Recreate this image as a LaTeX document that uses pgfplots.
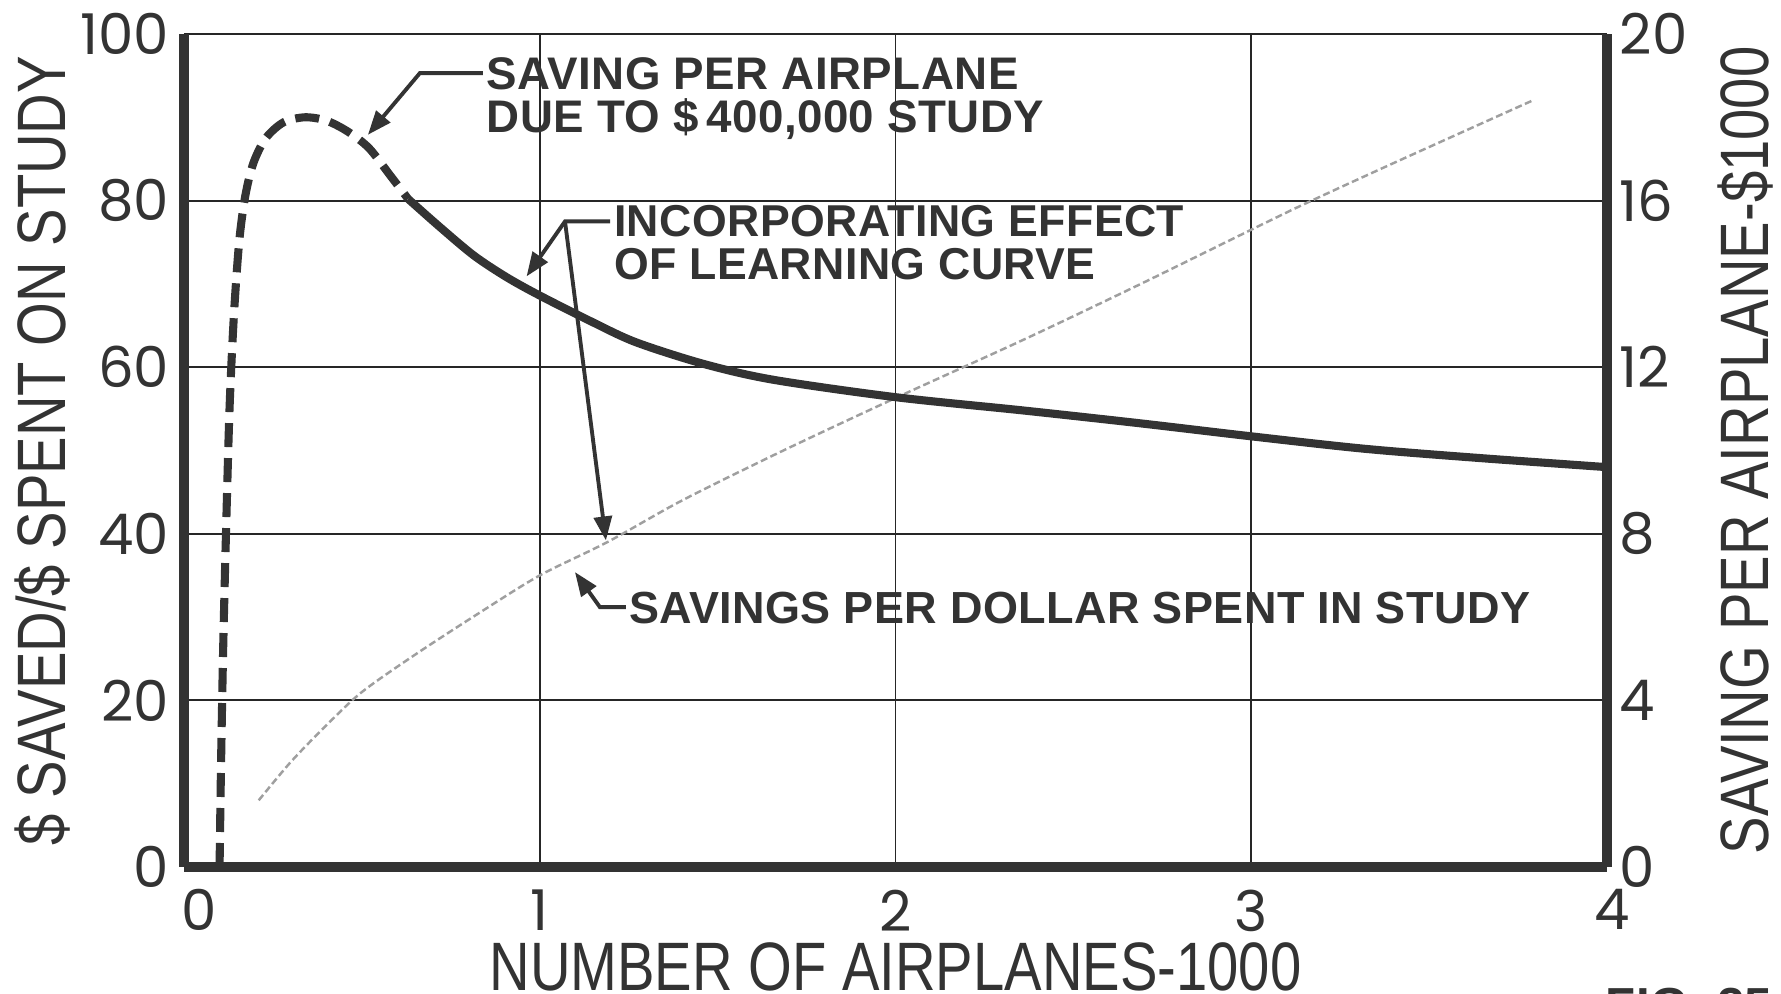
\documentclass[border=0pt]{standalone}
\usepackage{pgfplots}
\pgfplotsset{compat=1.18}
\usepackage{pgfplotstable}
\usepackage{fontspec}
\setmainfont{Liberation Sans}
\newfontfamily\tickfont{Poppins}
\newfontfamily\labfont[FakeStretch=0.82]{Liberation Sans}
\newfontfamily\annfont[LetterSpace=1]{Liberation Sans}
\usetikzlibrary{arrows.meta}
\definecolor{ink}{HTML}{333333}

\pgfplotstableread{
x y
0.100 0
0.104 2.4
0.110 5.2
0.118 8.0
0.128 11.0
0.140 13.2
0.155 15.0
0.172 16.1
0.195 16.9
0.230 17.5
0.280 17.88
0.340 18.0
0.400 17.92
0.460 17.66
0.520 17.26
0.580 16.6
0.630 16.04
}\darkdash

\pgfplotstableread{
x y
0.630 16.04
0.720 15.36
0.815 14.68
0.907 14.16
1.000 13.72
1.144 13.10
1.270 12.60
1.460 12.08
1.655 11.70
2.000 11.28
2.360 10.96
2.680 10.66
3.000 10.34
3.320 10.04
3.640 9.82
4.000 9.60
}\darksolid

\pgfplotstableread{
x y
0.21 8
0.30 12.6
0.40 17
0.50 21
0.65 25.5
0.83 30.5
1.00 35
1.19 39
1.40 44
1.675 49.8
2.00 56.3
2.36 63.3
2.68 69.8
3.00 76.5
3.15 79.6
3.40 84.5
3.79 92
}\light

\begin{document}
\begin{tikzpicture}
\useasboundingbox (-18.4mm,-12.7mm) rectangle (159.7mm,86.7mm);
\begin{axis}[
  at={(0,0)}, anchor=south west,
  width=142.3mm, height=83.3mm, scale only axis,
  xmin=0, xmax=4, ymin=0, ymax=100,
  xtick={0,1,2,3,4}, ytick={0,20,40,60,80,100},
  xticklabels={{\hspace*{3mm}0},1,2,3,{\hspace*{1mm}4}},
  axis x line*=bottom, axis y line*=left,
  axis line style={line width=2.7pt, ink},
  major tick length=0pt,
  xmajorgrids, ymajorgrids,
  grid style={line width=0.55pt, black!85},
  ticklabel style={font=\tickfont\fontsize{16}{16}\selectfont, text=ink, /pgf/number format/assume math mode=true},
  xticklabel style={inner sep=0pt, anchor=north, yshift=-2.2mm},
  yticklabel style={inner sep=0pt, anchor=east, xshift=-1.4mm},
  xlabel={NUMBER OF AIRPLANES-1000},
  ylabel={\$ SAVED/\$ SPENT ON STUDY},
  label style={font=\labfont\fontsize{19.5}{20}\selectfont, text=ink},
  xlabel style={at={([yshift=-10.0mm]axis description cs:0.5,0)}, anchor=center},
  ylabel style={at={([xshift=-14.1mm]axis description cs:0,0.5)}, anchor=center},
  clip=false,
]
\addplot[gray!75, line width=0.7pt, dash pattern=on 2pt off 1pt, smooth] table {\light};

\draw[ink, line width=1.1pt, -{Triangle[length=2.4mm,width=1.8mm]}]
  (axis cs:0.840,95.3) -- (axis cs:0.663,95.3) -- (axis cs:0.517,87.9);
\node[anchor=north west, inner sep=0pt, align=left, text=ink,
  font=\annfont\bfseries\fontsize{13}{12.25}\selectfont]
  at (axis cs:0.849,97.3) {SAVING PER AIRPLANE\\DUE TO \$\,400,000 STUDY};

\draw[ink, line width=1.1pt, -{Triangle[length=2.4mm,width=1.8mm]}]
  (axis cs:1.198,77.5) -- (axis cs:1.071,77.5) -- (axis cs:0.963,70.9);
\draw[ink, line width=1.1pt, -{Triangle[length=2.4mm,width=1.8mm]}]
  (axis cs:1.071,77.5) -- (axis cs:1.186,39.2);
\node[anchor=north west, inner sep=0pt, align=left, text=ink,
  font=\annfont\bfseries\fontsize{12.7}{12.25}\selectfont]
  at (axis cs:1.207,79.5) {INCORPORATING EFFECT\\OF LEARNING CURVE};

\draw[ink, line width=1.1pt, {Triangle[length=2.4mm,width=1.8mm]}-]
  (axis cs:1.099,35.4) -- (axis cs:1.169,31.2) -- (axis cs:1.242,31.2);
\node[anchor=west, inner sep=0pt, text=ink,
  font=\annfont\bfseries\fontsize{12.8}{12.25}\selectfont]
  at (axis cs:1.249,31.1) {SAVINGS PER DOLLAR SPENT IN STUDY};
\end{axis}

\begin{axis}[
  at={(0,0)}, anchor=south west,
  width=142.3mm, height=83.3mm, scale only axis,
  xmin=0, xmax=4, ymin=0, ymax=20,
  axis x line=none, axis y line*=right,
  axis line style={line width=2.7pt, ink},
  ytick={0,4,8,12,16,20},
  major tick length=0pt,
  ticklabel style={font=\tickfont\fontsize{16}{16}\selectfont, text=ink, /pgf/number format/assume math mode=true},
  yticklabel style={inner sep=0pt, anchor=west, xshift=1.2mm},
  ylabel={SAVING PER AIRPLANE-\$1000},
  label style={font=\labfont\fontsize{19.5}{20}\selectfont, text=ink},
  ylabel style={at={([xshift=13.9mm]axis description cs:1,0.5)}, anchor=center, rotate=0},
]
\addplot[ink, line width=2.3pt, dash pattern=on 2.4mm off 1.1mm, smooth] table {\darkdash};
\addplot[ink, line width=2.3pt, smooth] table {\darksolid};
\end{axis}

\node[anchor=north west, inner sep=0pt, text=ink,
  font=\annfont\bfseries\fontsize{14}{14}\selectfont] at (142.1mm,-12.0mm) {FIG. 25};
\end{tikzpicture}
\end{document}
